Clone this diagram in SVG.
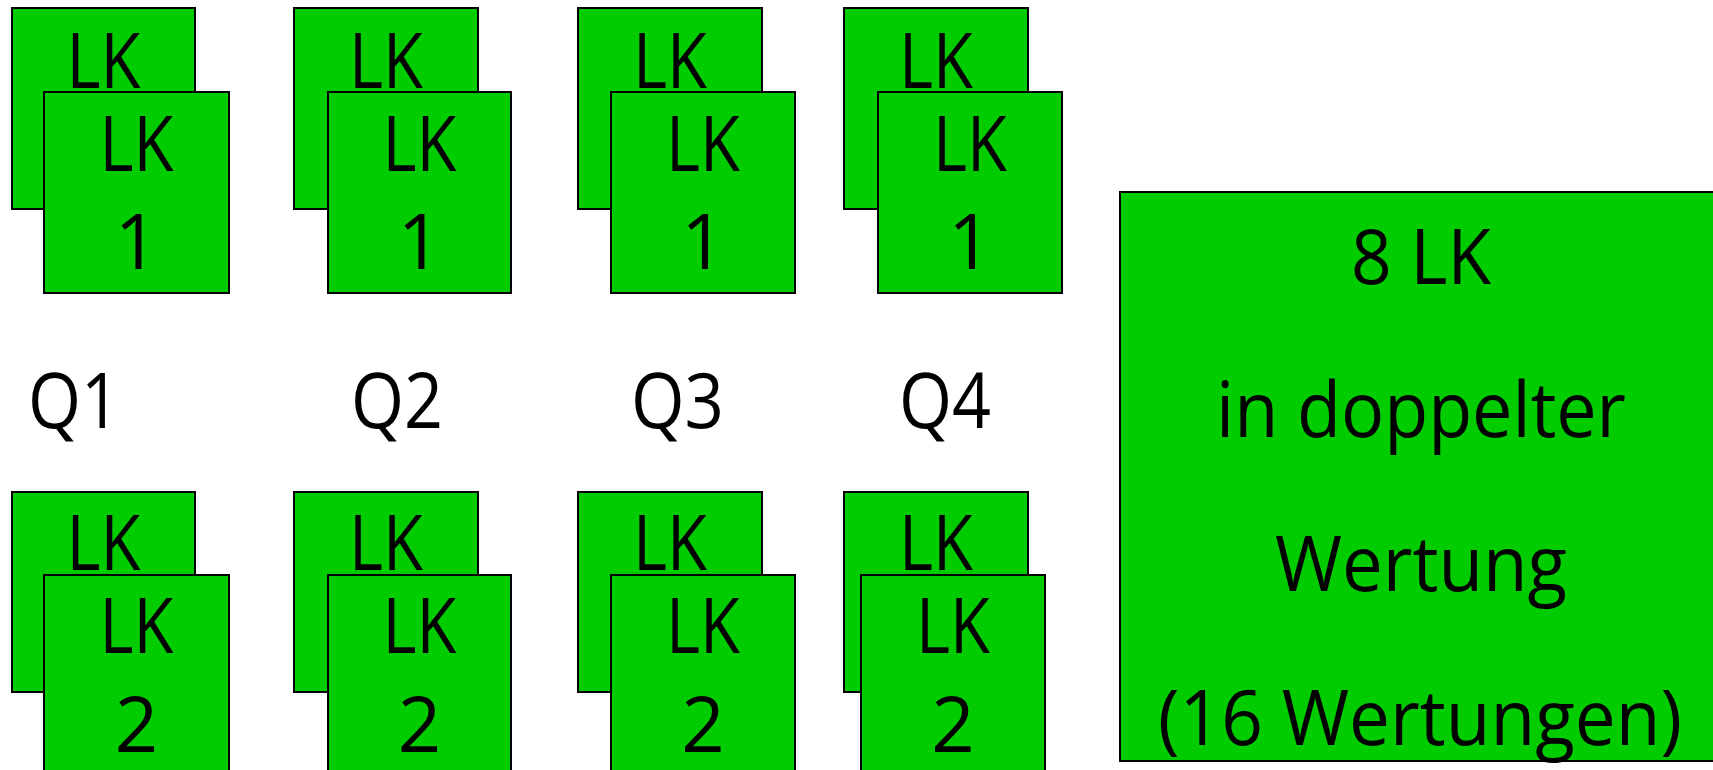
<svg xmlns="http://www.w3.org/2000/svg" width="1713" height="770" viewBox="0 0 1713 770">
<style>
.box{fill:#00CC00;stroke:#000;stroke-width:2}
.t{font-family:"Open Sans","Liberation Sans",sans-serif;font-size:76px;fill:#000;text-anchor:middle}
</style>
<rect width="1713" height="770" fill="#fff"/>
<g id="q1-top">
<rect class="box" x="12" y="8" width="183" height="201"/>
<text class="t" x="103.5" y="88" textLength="74" lengthAdjust="spacingAndGlyphs">LK</text>
<rect class="box" x="44" y="92" width="185" height="201"/>
<text class="t" x="136.5" y="171" textLength="74" lengthAdjust="spacingAndGlyphs">LK</text>
<text class="t" x="136.5" y="269">1</text>
</g>
<g id="q2-top">
<rect class="box" x="294" y="8" width="184" height="201"/>
<text class="t" x="386" y="88" textLength="74" lengthAdjust="spacingAndGlyphs">LK</text>
<rect class="box" x="328" y="92" width="183" height="201"/>
<text class="t" x="419.5" y="171" textLength="74" lengthAdjust="spacingAndGlyphs">LK</text>
<text class="t" x="419.5" y="269">1</text>
</g>
<g id="q3-top">
<rect class="box" x="578" y="8" width="184" height="201"/>
<text class="t" x="670" y="88" textLength="74" lengthAdjust="spacingAndGlyphs">LK</text>
<rect class="box" x="611" y="92" width="184" height="201"/>
<text class="t" x="703" y="171" textLength="74" lengthAdjust="spacingAndGlyphs">LK</text>
<text class="t" x="703" y="269">1</text>
</g>
<g id="q4-top">
<rect class="box" x="844" y="8" width="184" height="201"/>
<text class="t" x="936" y="88" textLength="74" lengthAdjust="spacingAndGlyphs">LK</text>
<rect class="box" x="878" y="92" width="184" height="201"/>
<text class="t" x="970" y="171" textLength="74" lengthAdjust="spacingAndGlyphs">LK</text>
<text class="t" x="970" y="269">1</text>
</g>
<g id="labels">
<text class="t" x="74" y="428" textLength="92" lengthAdjust="spacingAndGlyphs">Q1</text>
<text class="t" x="397" y="428" textLength="92" lengthAdjust="spacingAndGlyphs">Q2</text>
<text class="t" x="677.5" y="428" textLength="93" lengthAdjust="spacingAndGlyphs">Q3</text>
<text class="t" x="945" y="428" textLength="92" lengthAdjust="spacingAndGlyphs">Q4</text>
</g>
<g id="q1-bottom">
<rect class="box" x="12" y="492" width="183" height="200"/>
<text class="t" x="103.5" y="570" textLength="74" lengthAdjust="spacingAndGlyphs">LK</text>
<rect class="box" x="44" y="575" width="185" height="205"/>
<text class="t" x="136.5" y="653" textLength="74" lengthAdjust="spacingAndGlyphs">LK</text>
<text class="t" x="136.5" y="752">2</text>
</g>
<g id="q2-bottom">
<rect class="box" x="294" y="492" width="184" height="200"/>
<text class="t" x="386" y="570" textLength="74" lengthAdjust="spacingAndGlyphs">LK</text>
<rect class="box" x="328" y="575" width="183" height="205"/>
<text class="t" x="419.5" y="653" textLength="74" lengthAdjust="spacingAndGlyphs">LK</text>
<text class="t" x="419.5" y="752">2</text>
</g>
<g id="q3-bottom">
<rect class="box" x="578" y="492" width="184" height="200"/>
<text class="t" x="670" y="570" textLength="74" lengthAdjust="spacingAndGlyphs">LK</text>
<rect class="box" x="611" y="575" width="184" height="205"/>
<text class="t" x="703" y="653" textLength="74" lengthAdjust="spacingAndGlyphs">LK</text>
<text class="t" x="703" y="752">2</text>
</g>
<g id="q4-bottom">
<rect class="box" x="844" y="492" width="184" height="200"/>
<text class="t" x="936" y="570" textLength="74" lengthAdjust="spacingAndGlyphs">LK</text>
<rect class="box" x="861" y="575" width="184" height="205"/>
<text class="t" x="953" y="653" textLength="74" lengthAdjust="spacingAndGlyphs">LK</text>
<text class="t" x="953" y="752">2</text>
</g>
<g id="summary">
<rect class="box" x="1120" y="192" width="600" height="569"/>
<text class="t" x="1421" y="284" textLength="140" lengthAdjust="spacingAndGlyphs">8 LK</text>
<text class="t" x="1421" y="437" textLength="410" lengthAdjust="spacingAndGlyphs">in doppelter</text>
<text class="t" x="1421" y="591" textLength="292" lengthAdjust="spacingAndGlyphs">Wertung</text>
<text class="t" x="1420" y="745" textLength="524" lengthAdjust="spacingAndGlyphs">(16 Wertungen)</text>
</g>
<g id="connectors"/>
</svg>
